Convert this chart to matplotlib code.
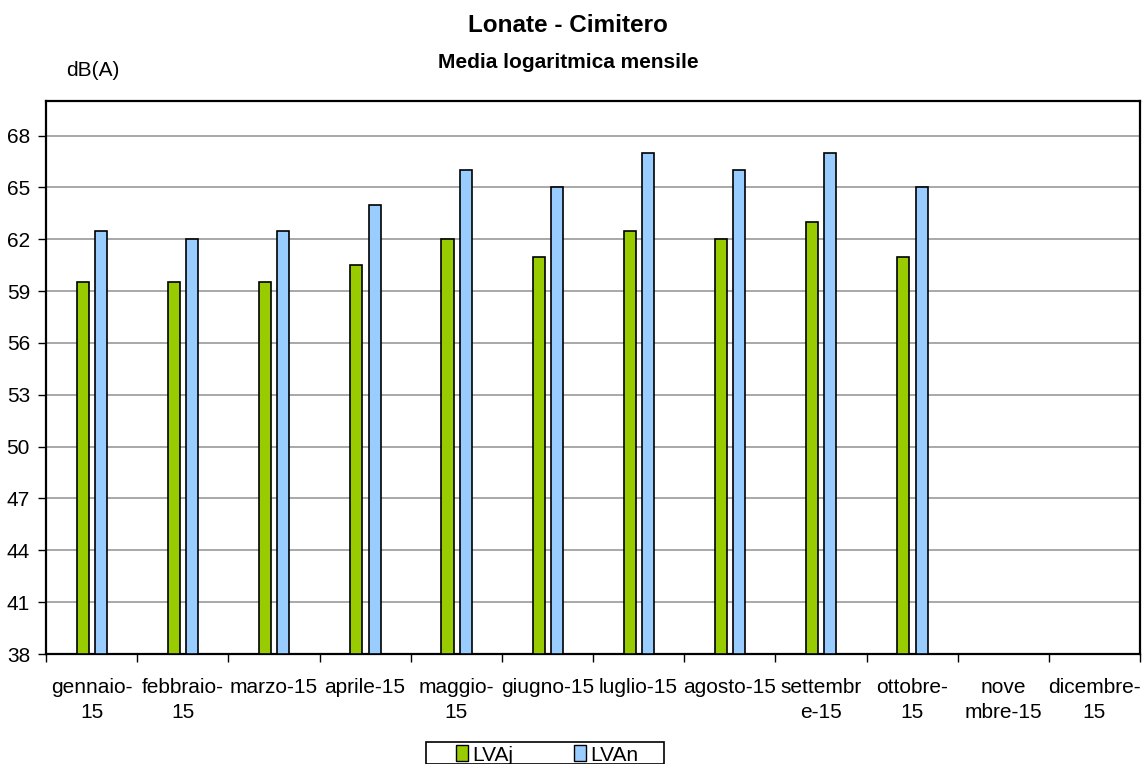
import numpy as np
import matplotlib.pyplot as plt
from matplotlib.patches import Patch, Rectangle

plt.rcParams['font.family'] = ['Liberation Sans', 'DejaVu Sans']

months = ['gennaio-\n15', 'febbraio-\n15', 'marzo-15', 'aprile-15', 'maggio-\n15',
          'giugno-15', 'luglio-15', 'agosto-15', 'settembr\ne-15', 'ottobre-\n15',
          'nove\nmbre-15', 'dicembre-\n15']
lvaj = [59.5, 59.5, 59.5, 60.5, 62.0, 61.0, 62.5, 62.0, 63.0, 61.0, np.nan, np.nan]
lvan = [62.5, 62.0, 62.5, 64.0, 66.0, 65.0, 67.0, 66.0, 67.0, 65.0, np.nan, np.nan]

GREEN = '#99cc00'
BLUE = '#99ccff'
W, H = 1145, 764

fig = plt.figure(figsize=(W / 100, H / 100), dpi=100)
ax = fig.add_axes([46 / W, 1 - 654 / H, 1094 / W, 553 / H])

x = np.arange(len(months))
w = 0.132
base = 38
ax.bar(x - 0.096, np.array(lvaj) - base, w, bottom=base, color=GREEN,
       edgecolor='black', linewidth=1.2, zorder=3)
ax.bar(x + 0.104, np.array(lvan) - base, w, bottom=base, color=BLUE,
       edgecolor='black', linewidth=1.2, zorder=3)

ax.set_xlim(-0.5, len(months) - 0.5)
ax.set_ylim(38, 70)
ax.set_yticks(np.arange(38, 69, 3))
ax.yaxis.grid(True, color='#999999', linewidth=1.2, zorder=0)
ax.set_xticks(np.arange(-0.5, len(months), 1))
ax.set_xticklabels([])
ax.set_xticks(x, minor=True)
ax.set_xticklabels(months, minor=True, fontsize=15, linespacing=1.35)
ax.tick_params(axis='x', which='minor', length=0, pad=17.5)
ax.tick_params(axis='x', which='major', length=6, width=1, direction='out')
ax.tick_params(axis='y', length=6, width=1, direction='out', labelsize=15, pad=5.5)
for s in ax.spines.values():
    s.set_linewidth(1.6)

fig.text(568 / W, 1 - 25 / H, 'Lonate - Cimitero', ha='center', va='center',
         fontsize=17.5, fontweight='bold')
fig.text(568 / W, 1 - 63 / H, 'Media logaritmica mensile', ha='center', va='center',
         fontsize=15, fontweight='bold')
fig.text(93 / W, 1 - 71 / H, 'dB(A)', ha='center', va='center', fontsize=15)

# legend box runs off the bottom edge
fig.patches.append(Rectangle((426 / W, 0), 238 / W, 1 - 742 / H, transform=fig.transFigure,
                             facecolor='white', edgecolor='black', linewidth=1.2,
                             zorder=1))
handles = [Patch(facecolor=GREEN, edgecolor='black', label='LVAj'),
           Patch(facecolor=BLUE, edgecolor='black', label='LVAn')]
leg = fig.legend(handles=handles, loc='center left', bbox_to_anchor=(456 / W, 1 - 755 / H),
                 ncol=2, fontsize=15, frameon=False,
                 handlelength=0.58, handleheight=0.8, handletextpad=0.2, columnspacing=2.9,
                 borderpad=0, borderaxespad=0)

fig.savefig('out.png', dpi=100)
